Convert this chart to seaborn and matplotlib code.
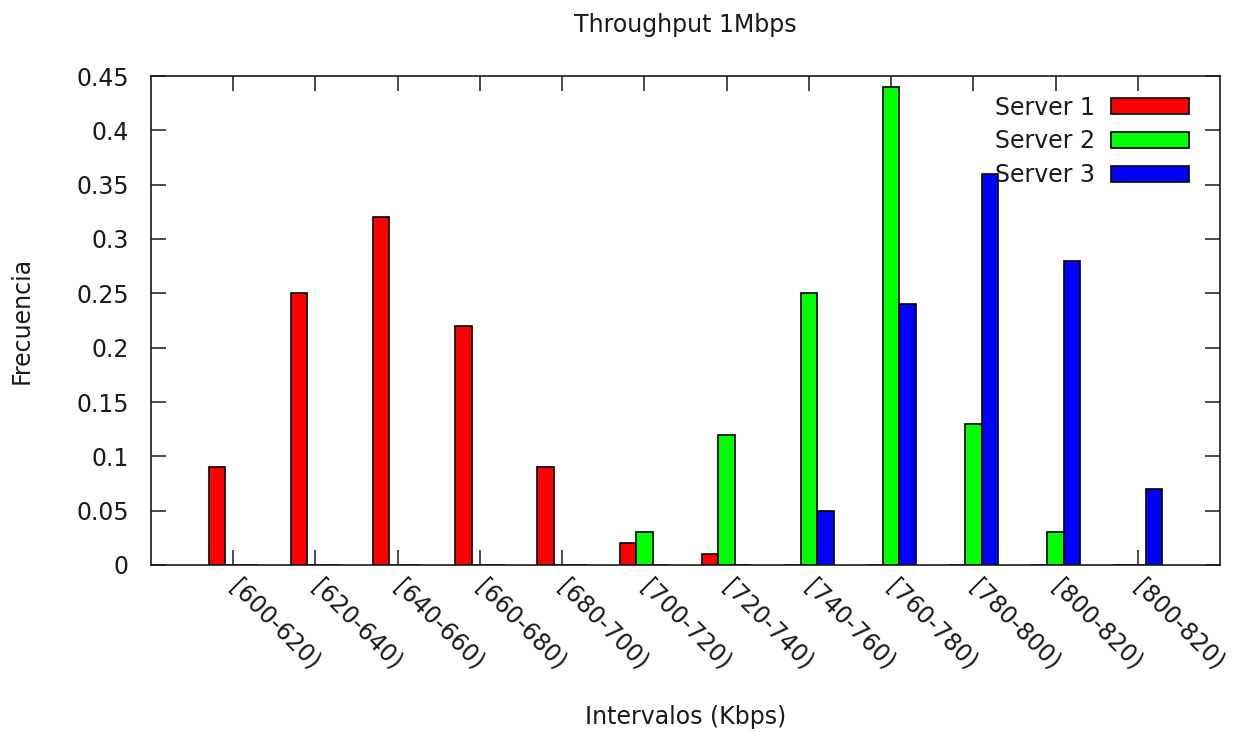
import matplotlib
matplotlib.use("Agg")
import matplotlib.pyplot as plt
import seaborn as sns
import pandas as pd

# ---- data ----
intervals = ["[600-620)", "[620-640)", "[640-660)", "[660-680)", "[680-700)", "[700-720)",
             "[720-740)", "[740-760)", "[760-780)", "[780-800)", "[800-820)", "[800-820)"]
server1 = [0.09, 0.25, 0.32, 0.22, 0.09, 0.02, 0.01, 0.0, 0.0, 0.0, 0.0, 0.0]
server2 = [0.0, 0.0, 0.0, 0.0, 0.0, 0.03, 0.12, 0.25, 0.44, 0.13, 0.03, 0.0]
server3 = [0.0, 0.0, 0.0, 0.0, 0.0, 0.0, 0.0, 0.05, 0.24, 0.36, 0.28, 0.07]
series_names = ["Server 1", "Server 2", "Server 3"]
colors = ["#ff0000", "#00ff00", "#0000ff"]
yticks = [0, 0.05, 0.1, 0.15, 0.2, 0.25, 0.3, 0.35, 0.4, 0.45]
ytick_labels = ["0", "0.05", "0.1", "0.15", "0.2", "0.25", "0.3", "0.35", "0.4", "0.45"]

rows = []
for name, vals in zip(series_names, [server1, server2, server3]):
    for i, v in enumerate(vals):
        rows.append({"idx": i, "freq": v, "server": name})
df = pd.DataFrame(rows)

sns.set_theme(style="white")
plt.rcParams["font.family"] = ["DejaVu Sans"]
FS = 17
TXT = "#1a1a1a"

fig = plt.figure(figsize=(12.43, 7.32), dpi=100)
ax = fig.add_axes([151 / 1243, 1 - 565 / 732, (1220 - 151) / 1243, (565 - 76) / 732])

sns.barplot(data=df, x="idx", y="freq", hue="server", hue_order=series_names,
            palette=colors, width=0.6, edgecolor="black", linewidth=1.2,
            saturation=1, ax=ax, legend=True)

ax.set_xlim(-1, 12)
ax.set_ylim(0, 0.45)
ax.set_yticks(yticks)
ax.set_yticklabels(ytick_labels, fontsize=FS, color=TXT)
ax.set_xticks(range(len(intervals)))
ax.set_xticklabels(intervals, fontsize=FS, color=TXT, rotation=-45,
                   ha="left", va="center", rotation_mode="anchor")

for s in ax.spines.values():
    s.set_visible(True)
    s.set_color(TXT)
    s.set_linewidth(1.2)

ax.tick_params(axis="both", which="major", direction="in", length=11, width=1.1,
               color=TXT, top=True, right=True, bottom=True, left=True)
ax.tick_params(axis="y", pad=16)
ax.tick_params(axis="x", pad=13)

ax.set_xlabel("")
ax.set_ylabel("")
fig.text(686 / 1243, 1 - 717 / 732, "Intervalos (Kbps)", ha="center", va="center",
         fontsize=FS, color=TXT)
fig.text(22 / 1243, 1 - 320 / 732, "Frecuencia", ha="center", va="center",
         rotation=90, fontsize=FS, color=TXT)
fig.text(685 / 1243, 1 - 25 / 732, "Throughput 1Mbps", ha="center", va="center",
         fontsize=FS, color=TXT)

leg = ax.legend(loc="upper right", bbox_to_anchor=(0.971, 0.960), frameon=False,
                markerfirst=False, handlelength=3.3, handleheight=0.68,
                handletextpad=0.68, labelspacing=0.41, borderpad=0, borderaxespad=0,
                fontsize=FS)
for t in leg.get_texts():
    t.set_color(TXT)
for h in leg.legend_handles:
    h.set_edgecolor("black")
    h.set_linewidth(1.2)

ax.grid(False)
fig.savefig("out.png", dpi=100)
